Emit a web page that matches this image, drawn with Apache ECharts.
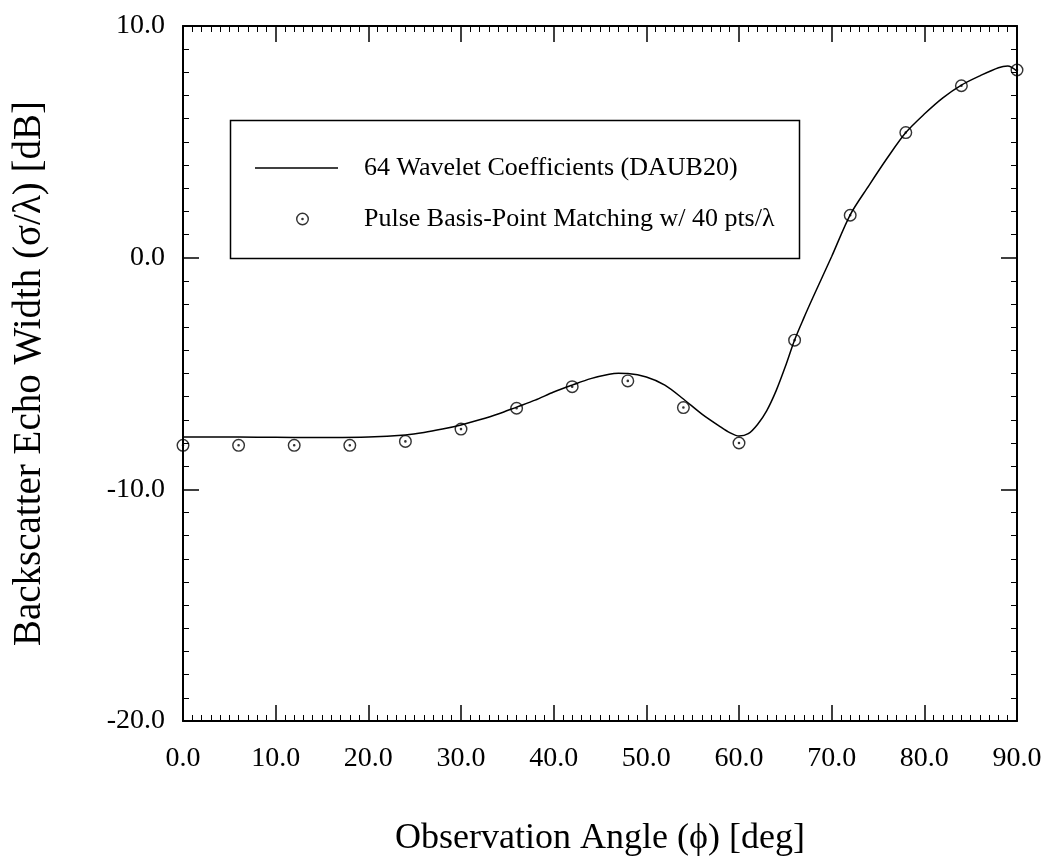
<!DOCTYPE html>
<html>
<head>
<meta charset="utf-8">
<script src="https://cdn.jsdelivr.net/npm/echarts@6/dist/echarts.min.js"></script>
<style>
html,body{margin:0;padding:0;background:#fff;}
#chart{width:1056px;height:862px;}
</style>
</head>
<body>
<div id="chart"></div>
<script>
// Wavelet solution (continuous curve) : angle [deg], echo width [dB]
var curveAngles = [0,4,8,12,16,20,24,26,28,30,32,34,36,38,40,42,44,46,47,48,50,52,54,56,58,59,60,61,62,63,64,65,66,67,68,70,72,74,76,78,80,82,84,86,88,89,90];
var curveValues = [-7.74,-7.74,-7.75,-7.76,-7.76,-7.74,-7.65,-7.55,-7.4,-7.22,-7.0,-6.75,-6.45,-6.15,-5.8,-5.5,-5.22,-5.03,-4.99,-5.0,-5.15,-5.5,-6.1,-6.75,-7.3,-7.55,-7.7,-7.6,-7.2,-6.6,-5.75,-4.7,-3.55,-2.6,-1.7,0.05,1.85,3.1,4.3,5.4,6.2,6.9,7.45,7.85,8.2,8.27,8.05];

// Pulse basis point matching results
var pointAngles = [0,6,12,18,24,30,36,42,48,54,60,66,72,78,84,90];
var pointValues = [-8.1,-8.1,-8.1,-8.1,-7.93,-7.4,-6.5,-5.57,-5.32,-6.47,-8.0,-3.56,1.83,5.4,7.42,8.1];

var lineName = '64 Wavelet Coefficients (DAUB20)';
var pointName = 'Pulse Basis-Point Matching w/ 40 pts/\u03bb';
var xTitle = 'Observation Angle (\u03d5) [deg]';
var yTitle = 'Backscatter Echo Width (\u03c3/\u03bb) [dB]';

var FONT = '"Liberation Serif", "DejaVu Serif", serif';
var ringPath = 'path://M50,0 A50,50 0 1,1 50,100 A50,50 0 1,1 50,0 Z M50,11 A39,39 0 1,0 50,89 A39,39 0 1,0 50,11 Z M50,40 A10,10 0 1,1 50,60 A10,10 0 1,1 50,40 Z';

var lineData = curveAngles.map(function(a,i){return [a, curveValues[i]];});
var pointData = pointAngles.map(function(a,i){return [a, pointValues[i]];});

var chart = echarts.init(document.getElementById('chart'), null, {renderer:'canvas'});

function fmt(v){ return v.toFixed(1); }

function axisBase(){
  return {
    axisLine:{show:true, onZero:false, lineStyle:{color:'#000', width:2}},
    axisTick:{show:true, inside:true, length:16, lineStyle:{color:'#000', width:1.5}},
    minorTick:{show:true, splitNumber:10, length:6, lineStyle:{color:'#000', width:1}},
    splitLine:{show:false},
    minorSplitLine:{show:false}
  };
}

var option = {
  animation:false,
  backgroundColor:'#fff',
  grid:{left:183, right:39, top:26, bottom:139, containLabel:false},
  xAxis:[
    Object.assign(axisBase(), {
      type:'value', position:'bottom', min:0, max:90, interval:10,
      axisLabel:{show:true, formatter:fmt, color:'#000', fontFamily:FONT, fontSize:28, margin:24},
      name:xTitle, nameLocation:'middle', nameGap:100,
      nameTextStyle:{color:'#000', fontFamily:FONT, fontSize:36}
    }),
    Object.assign(axisBase(), {
      type:'value', position:'top', min:0, max:90, interval:10,
      axisLabel:{show:false}
    })
  ],
  yAxis:[
    Object.assign(axisBase(), {
      type:'value', position:'left', min:-20, max:10, interval:10,
      axisLabel:{show:true, formatter:fmt, color:'#000', fontFamily:FONT, fontSize:28, margin:18},
      name:yTitle, nameLocation:'middle', nameGap:134,
      nameTextStyle:{color:'#000', fontFamily:FONT, fontSize:39}
    }),
    Object.assign(axisBase(), {
      type:'value', position:'right', min:-20, max:10, interval:10,
      axisLabel:{show:false}
    })
  ],
  legend:[
    {
      data:[{name:lineName, icon:'rect'}], left:255, top:155, padding:0, orient:'vertical',
      itemWidth:83, itemHeight:1.5,
      textStyle:{color:'#000', fontFamily:FONT, fontSize:26, lineHeight:26, padding:[0,0,0,21]},
      selectedMode:false
    },
    {
      data:[{name:pointName, icon:ringPath}], left:296, top:206, padding:0, orient:'vertical',
      itemWidth:13, itemHeight:13,
      textStyle:{color:'#000', fontFamily:FONT, fontSize:26, lineHeight:26, padding:[0,0,0,50]},
      selectedMode:false
    }
  ],
  graphic:[
    {type:'rect', left:228, top:118, z:100, silent:true,
     shape:{width:569, height:138},
     style:{fill:'none', stroke:'#000', lineWidth:1.5}}
  ],
  series:[
    {
      name:lineName, type:'line', data:lineData, xAxisIndex:0, yAxisIndex:0,
      symbol:'none', smooth:0.3,
      lineStyle:{color:'#000', width:1.5},
      itemStyle:{color:'#000'}
    },
    {
      name:pointName, type:'scatter', data:pointData, xAxisIndex:0, yAxisIndex:0,
      symbol:ringPath, symbolSize:13,
      itemStyle:{color:'#000'}
    }
  ]
};
chart.setOption(option);
</script>
</body>
</html>
